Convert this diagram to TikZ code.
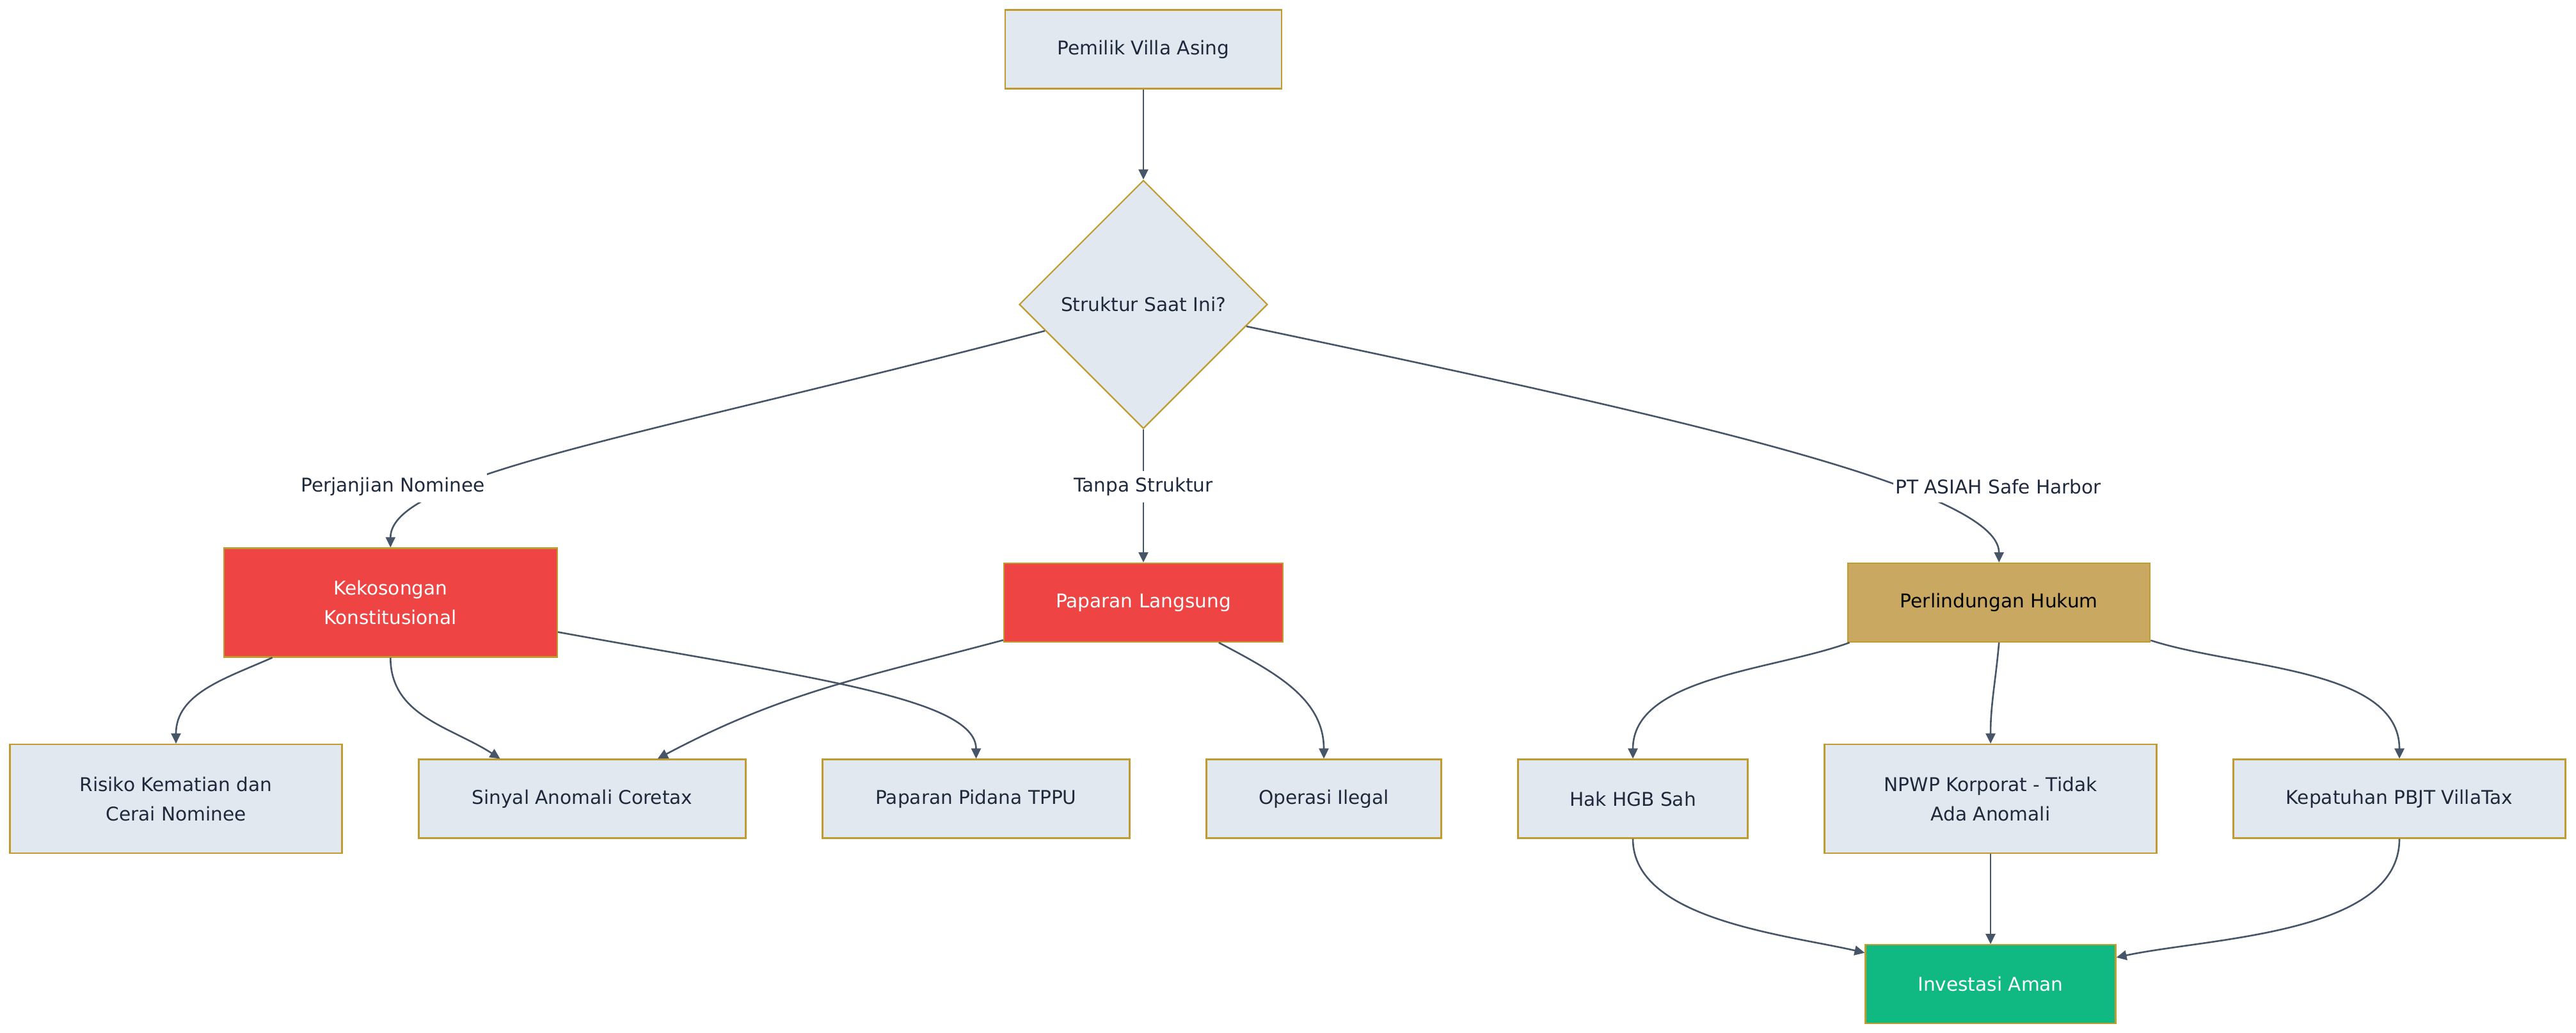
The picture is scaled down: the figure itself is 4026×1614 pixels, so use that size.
\documentclass[tikz,border=0pt]{standalone}
\usepackage{fontspec}
\setmainfont{DejaVu Sans}
\usepackage{xcolor}
\usepackage{tikz}
\usetikzlibrary{positioning, arrows.meta, shapes.geometric}

\definecolor{boxfill}{HTML}{E2E8F0}
\definecolor{boxline}{HTML}{BF9B30}
\definecolor{inkcol}{HTML}{1E293B}
\definecolor{edgecol}{HTML}{475569}
\definecolor{riskred}{HTML}{EF4444}
\definecolor{safegreen}{HTML}{10B981}
\definecolor{lawgold}{HTML}{C9A862}

\begin{document}
\begin{tikzpicture}[
  x=1pt, y=1pt,
  node distance=141pt and 117.8pt,
  every node/.style={font=\fontsize{29.6}{46}\selectfont, text=inkcol},
  box/.style={rectangle, draw=boxline, line width=2.2pt, fill=boxfill, align=center,
              minimum height=123pt, inner sep=0pt},
  tallbox/.style={box, minimum height=170pt},
  risk/.style={fill=riskred, text=white},
  decide/.style={diamond, draw=boxline, line width=2.2pt, fill=boxfill, aspect=1,
                 minimum width=388pt, minimum height=388pt, inner sep=0pt},
  lbl/.style={fill=white, inner xsep=3pt, inner ysep=0pt, minimum height=49pt},
  arrow/.style={-{Triangle[length=16pt, width=15pt]}, line width=2.6pt, color=edgecol},
]
  \useasboundingbox (0,0) rectangle (4026,-1614);

  \node[box, minimum width=432pt] (pemilik) at (1787,-77) {Pemilik Villa Asing};
  \node[decide, below=of pemilik] (struktur) {Struktur Saat Ini?};

  \node[box, risk, minimum width=436pt, below=208pt of struktur] (langsung) {Paparan Langsung};
  \node[tallbox, risk, minimum width=521pt, left=696pt of langsung] (kekosongan) {Kekosongan\\Konstitusional};
  \node[box, fill=lawgold, text=black, minimum width=472pt, right=881pt of langsung] (hukum) {Perlindungan Hukum};

  \node[tallbox, minimum width=519pt] (risiko) at (275,-1248) {Risiko Kematian dan\\Cerai Nominee};
  \node[box, minimum width=511pt, right=of risiko] (sinyal) {Sinyal Anomali Coretax};
  \node[box, minimum width=480pt, right=of sinyal] (tppu) {Paparan Pidana TPPU};
  \node[box, minimum width=367pt, right=of tppu] (ilegal) {Operasi Ilegal};
  \node[box, minimum width=359pt, right=of ilegal] (hgb) {Hak HGB Sah};
  \node[tallbox, minimum width=519pt, right=of hgb] (npwp) {NPWP Korporat - Tidak\\Ada Anomali};
  \node[box, minimum width=519pt, right=of npwp] (pbjt) {Kepatuhan PBJT VillaTax};

  \node[box, fill=safegreen, text=white, minimum width=391pt, below=of npwp] (aman) {Investasi Aman};

  \draw[arrow] (pemilik) -- (struktur);
  \draw[arrow] (struktur.195) .. controls +(-633,-166) and +(0,112) .. (kekosongan.north);
  \draw[arrow] (struktur) -- (langsung);
  \draw[arrow] (struktur.-12) .. controls +(651,-137) and +(0,116) .. (hukum.north);

  \draw[arrow] (kekosongan.205) to[out=204, in=90] (risiko.north);
  \draw[arrow] (kekosongan.south) to[out=-90, in=147] (sinyal.154);
  \draw[arrow] (kekosongan.-10) .. controls +(377,-69) and +(0,96) .. (tppu.north);
  \draw[arrow] (langsung.195) to[out=195, in=28] (sinyal.28);
  \draw[arrow] (langsung.-28) to[out=-28, in=90] (ilegal.north);

  \draw[arrow] (hukum.195) to[out=200, in=90, looseness=0.85] (hgb.north);
  \draw[arrow] (hukum.south) to[out=-95, in=90] (npwp.north);
  \draw[arrow] (hukum.-14) to[out=-18, in=90, looseness=0.85] (pbjt.north);

  \draw[arrow] (hgb.south) to[out=-90, in=167, looseness=0.8] (aman.166);
  \draw[arrow] (npwp) -- (aman);
  \draw[arrow] (pbjt.south) to[out=-90, in=12, looseness=0.8] (aman.12);

  % edge labels sit on top of the lines
  \node[lbl] (lnominee) at (614,-760) {Perjanjian Nominee};
  \node[lbl] (ltanpa) at (1787,-760) {Tanpa Struktur};
  \node[lbl] (lasiah) at (3123,-760) {PT ASIAH Safe Harbor};

\end{tikzpicture}
\end{document}
